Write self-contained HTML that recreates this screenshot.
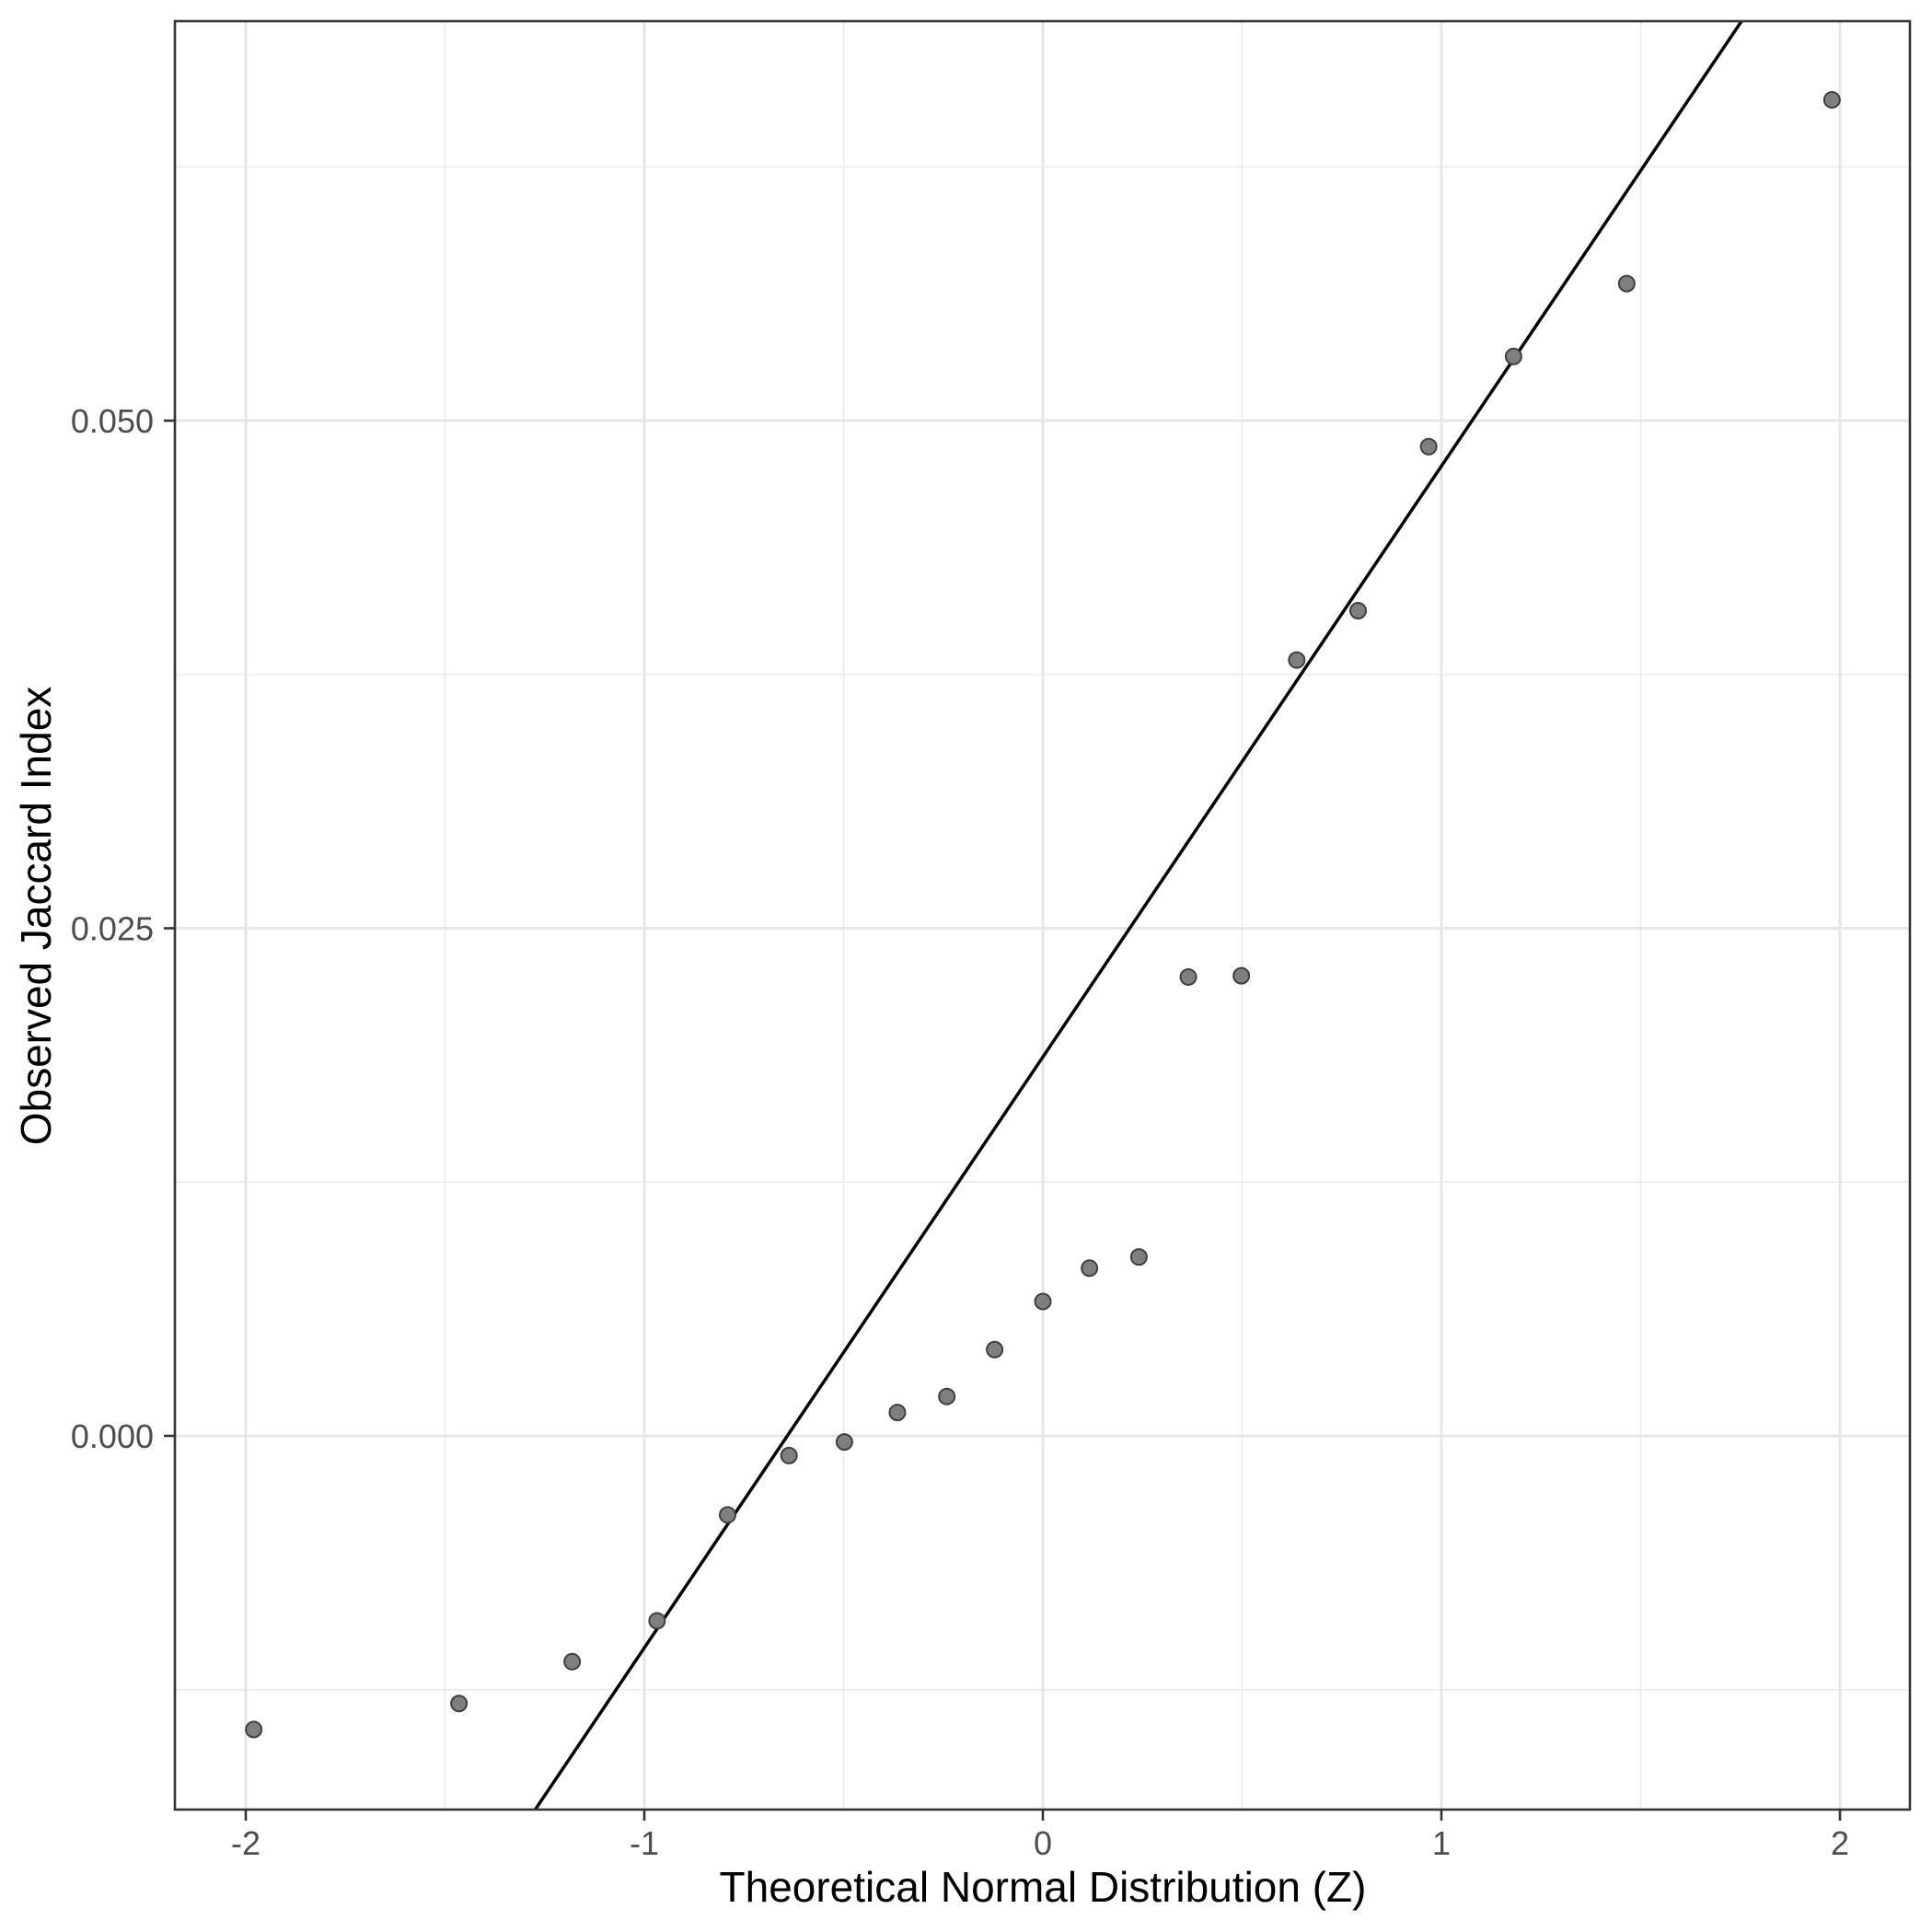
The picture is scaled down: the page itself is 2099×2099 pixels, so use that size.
<!DOCTYPE html>
<html><head><meta charset="utf-8"><style>
html,body{margin:0;padding:0;background:#fff;width:2099px;height:2099px;overflow:hidden}
svg{display:block}
text{font-family:"Liberation Sans",Arial,sans-serif}
</style></head><body>
<svg id="chart" width="2099" height="2099" viewBox="0 0 2099 2099" xmlns="http://www.w3.org/2000/svg">
<rect x="0" y="0" width="2099" height="2099" fill="#fff"/>
<g id="grid"></g>
<g id="line"></g>
<g id="points"></g>
<rect x="190" y="23" width="1885" height="1943" fill="none" stroke="#333" stroke-width="2.6"/>
<g id="axes"></g>
<text x="1133" y="2066" font-size="46" text-anchor="middle" fill="#000">Theoretical Normal Distribution (Z)</text>
<text transform="translate(55,995) rotate(-90)" font-size="46" text-anchor="middle" fill="#000">Observed Jaccard Index</text>
</svg>
<script>
const zValues = [-1.98,-1.465,-1.181,-0.968,-0.791,-0.637,-0.498,-0.365,-0.241,-0.121,0,0.117,0.241,0.365,0.498,0.637,0.791,0.968,1.181,1.465,1.98];
const jaccardValues = [-0.01446,-0.01318,-0.01112,-0.00911,-0.00389,-0.00097,-0.0003,0.00115,0.00194,0.00425,0.00662,0.00826,0.00881,0.0226,0.02266,0.03821,0.04064,0.04872,0.05316,0.05675,0.0658];
const xTicks = [-2,-1,0,1,2];
const xTickLabels = ["-2","-1","0","1","2"];
const xMinor = [-1.5,-0.5,0.5,1.5];
const yTicks = [0,0.025,0.05];
const yTickLabels = ["0.000","0.025","0.050"];
const yMinor = [-0.0125,0.0125,0.0375,0.0625];
const lineIntercept = 0.01866;
const lineSlope = 0.0291;

const PL=190, PR=2075, PT=23, PB=1966;
const X0=1133, XU=433, Y0=1560, YU=22060;
const sx = z => X0 + z*XU;
const sy = v => Y0 - v*YU;
const NS="http://www.w3.org/2000/svg";
function mk(tag, attrs, parent){const e=document.createElementNS(NS,tag);for(const k in attrs)e.setAttribute(k,attrs[k]);parent.appendChild(e);return e;}
const grid=document.getElementById('grid'), axes=document.getElementById('axes');
xMinor.forEach(v=>{const e=mk('line',{x1:sx(v),x2:sx(v),y1:PT,y2:PB,stroke:'#EBEBEB','stroke-width':1.6},grid);

});
yMinor.forEach(v=>{const e=mk('line',{x1:PL,x2:PR,y1:sy(v),y2:sy(v),stroke:'#EBEBEB','stroke-width':1.6},grid);

});
xTicks.forEach((v,i)=>{
 const g=mk('line',{x1:sx(v),x2:sx(v),y1:PT,y2:PB,stroke:'#E6E6E6','stroke-width':3},grid);
 
 
 const t=mk('line',{x1:sx(v),x2:sx(v),y1:PB,y2:PB+12,stroke:'#333','stroke-width':2.6},axes);
 
 
 const l=mk('text',{x:sx(v),y:2015,'font-size':36,'text-anchor':'middle',fill:'#4D4D4D'},axes);
 l.textContent=xTickLabels[i];
 
 
});
yTicks.forEach((v,i)=>{
 const g=mk('line',{x1:PL,x2:PR,y1:sy(v),y2:sy(v),stroke:'#E6E6E6','stroke-width':3},grid);
 
 
 const t=mk('line',{x1:PL-12,x2:PL,y1:sy(v),y2:sy(v),stroke:'#333','stroke-width':2.6},axes);
 
 
 const l=mk('text',{x:167,y:sy(v)+13,'font-size':36,'text-anchor':'end',fill:'#4D4D4D'},axes);
 l.textContent=yTickLabels[i];
 
 
});
const lg=document.getElementById('line');
const zA=-3, zB=3;
const cp=mk('clipPath',{id:'clip'},lg);
mk('rect',{x:PL,y:PT,width:PR-PL,height:PB-PT},cp);
const rl=mk('line',{x1:sx(zA),y1:sy(lineIntercept+lineSlope*zA),x2:sx(zB),y2:sy(lineIntercept+lineSlope*zB),stroke:'#000','stroke-width':3.5,'clip-path':'url(#clip)'},lg);


const pg=document.getElementById('points');
zValues.forEach((z,i)=>{
 const c=mk('circle',{cx:sx(z),cy:sy(jaccardValues[i]),r:8.5,fill:'#7f7f7f',stroke:'#3f3f3f','stroke-width':2},pg);
 
 
});
</script>
</body></html>
